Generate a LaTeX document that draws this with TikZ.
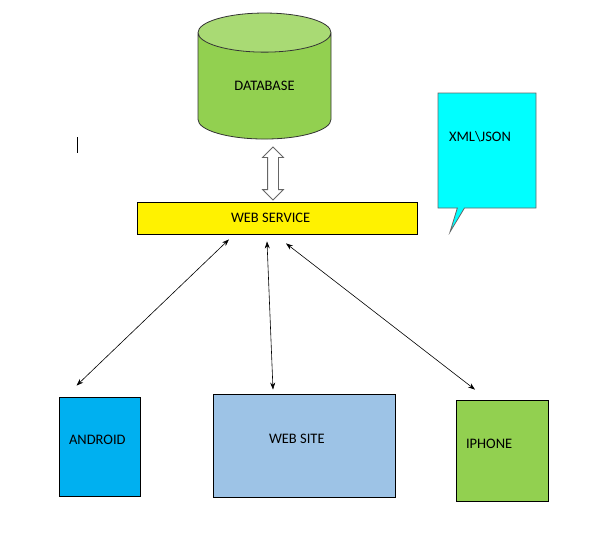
\documentclass[tikz,border=0pt]{standalone}
\usepackage{fontspec}
\setmainfont{Carlito}
\usetikzlibrary{positioning,arrows.meta,shapes.geometric,shapes.arrows,shapes.callouts}

\definecolor{dbgreen}{HTML}{92D050}
\definecolor{dbtop}{HTML}{A9DA74}
\definecolor{droidblue}{HTML}{00B0F0}
\definecolor{siteblue}{HTML}{9DC3E6}
\definecolor{bubble}{HTML}{00FFFF}

\begin{document}
\begin{tikzpicture}[
    x=1pt, y=-1pt,
    font=\fontsize{14.5}{17}\selectfont,
    box/.style={draw, line width=0.8pt, inner sep=0pt},
    client/.style={box, text depth=14pt, align=flush left, text width=#1},
    link/.style={<->, >={Stealth[length=7pt, width=5pt]}, line width=0.6pt},
  ]
  \useasboundingbox (0,0) rectangle (594,533);

  % --- database and web service (top) ---
  \node[cylinder, shape border rotate=90, aspect=0.65, draw=black!80, line width=0.8pt,
        cylinder uses custom fill, cylinder body fill=dbgreen, cylinder end fill=dbtop,
        minimum width=133pt, minimum height=126pt, inner sep=0pt, text height=10pt]
    (db) at (264.5,86) {DATABASE};
  \node[double arrow, rotate=90, draw=gray!80!black, fill=white, line width=0.8pt,
        minimum height=53pt, double arrow head extend=5pt, inner sep=5pt]
    (dbarrow) at (273,173.5) {};
  \node[box, fill=yellow, minimum width=280pt, minimum height=32pt,
        align=flush left, text width=92pt]
    (ws) at (277,218) {WEB SERVICE};

  % --- data format callout ---
  \node[rectangle callout, draw=gray!80!black, fill=bubble, line width=0.8pt,
        minimum width=98pt, minimum height=115pt,
        callout absolute pointer={(450,232)}]
    (fmt) at (487,150.5) {};
  \node (fmtlbl) at (480,137) {XML\textbackslash JSON};

  \draw[line width=1pt] (77,137) -- (77,153);

  % --- clients (bottom) ---
  \node[client=61pt, fill=droidblue, minimum width=81pt, minimum height=99pt]
    (android) at (99.5,446.5) {ANDROID};
  \node[client=70pt, fill=siteblue, minimum width=182pt, minimum height=103pt]
    (site) at (304,445.5) {WEB SITE};
  \node[client=72pt, fill=dbgreen, minimum width=92pt, minimum height=101pt]
    (iphone) at (502,450.5) {IPHONE};

  \draw[link] ([xshift=-48pt, yshift=-5pt]ws.south) -- ([xshift=-23pt, yshift=11pt]android.north);
  \draw[link] ([xshift=-10pt, yshift=-7pt]ws.south) -- ([xshift=-31pt, yshift=4pt]site.north);
  \draw[link] ([xshift=9pt, yshift=-9pt]ws.south) -- ([xshift=-27pt, yshift=10pt]iphone.north);
\end{tikzpicture}
\end{document}
